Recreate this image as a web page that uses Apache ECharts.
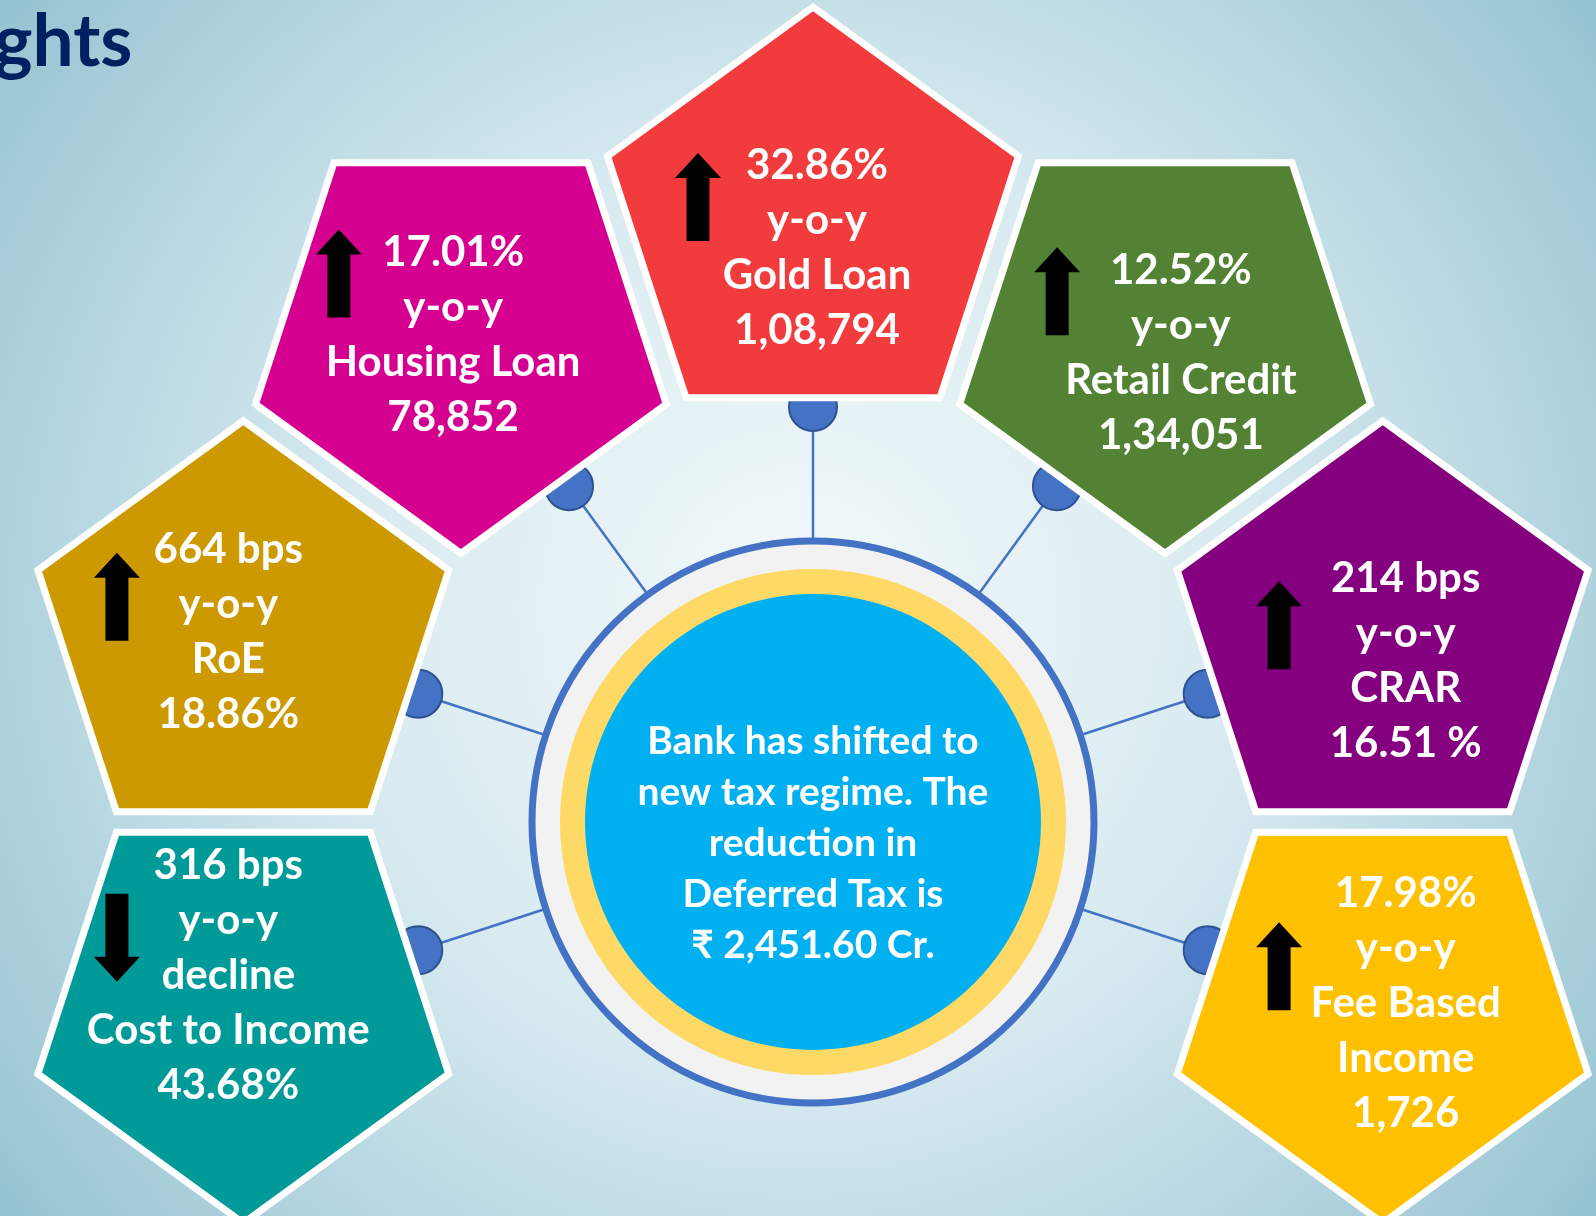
<!DOCTYPE html>
<html>
<head>
<meta charset="utf-8">
<title>Highlights</title>
<script src="https://cdn.jsdelivr.net/npm/echarts@6/dist/echarts.min.js"></script>
<style>
  html, body { margin: 0; padding: 0; }
  #main { width: 1596px; height: 1216px; }
</style>
</head>
<body>
<div id="main"></div>
<script>
// metrics, listed clockwise around the ring starting from the top
const metrics = ['Gold Loan', 'Retail Credit', 'CRAR', 'Fee Based\nIncome', 'Cost to Income', 'RoE', 'Housing Loan'];
const changes = ['32.86%', '12.52%', '214 bps', '17.98%', '316 bps', '664 bps', '17.01%'];
const trend = ['up', 'up', 'up', 'up', 'down', 'up', 'up'];
const values = ['1,08,794', '1,34,051', '16.51 %', '1,726', '43.68%', '18.86%', '78,852'];
const colors = ['#F23B3C', '#548235', '#84007E', '#FFC000', '#009A98', '#CC9900', '#D5008F'];
const centerNote = ['Bank has shifted to', 'new tax regime. The', 'reduction in', 'Deferred Tax is', '₹ 2,451.60 Cr.'];

// ring has 10 slots of 36 degrees; the bottom three stay empty
const RING_SLOTS = 10;
const slotOf = i => (i < 4 ? i : i + 3);

const CX = 813, CY = 822;
const FONT = 'Lato, "Open Sans", sans-serif';

const chart = echarts.init(document.getElementById('main'));

function pentagonItem(params, api) {
  const i = params.dataIndex;
  const p = api.coord([api.value(0), api.value(1)]);
  const cs = params.coordSys;
  const dx = p[0] - cs.cx, dy = p[1] - cs.cy;
  const d = Math.sqrt(dx * dx + dy * dy);
  const ux = dx / d, uy = dy / d;
  const a = Math.atan2(dy, dx);
  const R = 216;
  const pts = [];
  for (let j = 0; j < 5; j++) {
    const t = a + j * Math.PI * 2 / 5;
    pts.push([p[0] + R * Math.cos(t), p[1] + R * Math.sin(t)]);
  }
  const knob = [p[0] - ux * 184, p[1] - uy * 184];
  const lineStart = [cs.cx + ux * 284, cs.cy + uy * 284];

  const up = slotOf(i) % 2 === 0;
  const lines = [changes[i], 'y-o-y'];
  if (trend[i] === 'down') lines.push('decline');
  lines.push(metrics[i], values[i]);
  // content leans a little toward the outer side of the ring
  const tx = p[0] + 4 + 20 * ux;
  const ty = p[1] + (up ? 8 : -6) - 5 + 15 * ux - 22 * uy;
  const ax = p[0] - 115 + 12 * ux;
  const ay = p[1] + (up ? -26 : -55) + 15 * ux;
  const dir = trend[i] === 'down' ? -1 : 1;
  const arrow = [
    [0, -44], [23, -19], [11.5, -19], [11.5, 44], [-11.5, 44], [-11.5, -19], [-23, -19]
  ].map(q => [ax + q[0], ay + q[1] * dir]);

  return {
    type: 'group',
    children: [
      { type: 'line', shape: { x1: lineStart[0], y1: lineStart[1], x2: knob[0], y2: knob[1] },
        style: { stroke: '#4472C4', lineWidth: 2.5 } },
      { type: 'circle', shape: { cx: knob[0], cy: knob[1], r: 24 },
        style: { fill: '#4472C4', stroke: '#2F528F', lineWidth: 2 } },
      { type: 'polygon', shape: { points: pts },
        style: { fill: colors[i], stroke: '#ffffff', lineWidth: 7, lineJoin: 'miter' } },
      { type: 'polygon', shape: { points: arrow }, style: { fill: '#000000' } },
      { type: 'text',
        style: { text: lines.join('\n'), x: tx, y: ty, fill: '#ffffff',
          font: 'bold 42px ' + FONT, align: 'center', verticalAlign: 'middle', lineHeight: 55 } }
    ]
  };
}

const option = {
  animation: false,
  graphic: [
    { type: 'rect', z: -100, shape: { x: 0, y: 0, width: 1596, height: 1216 },
      style: { fill: new echarts.graphic.RadialGradient(0.5, 0.5, 0.85, [
        { offset: 0, color: '#f3f9fb' },
        { offset: 0.45, color: '#d7eaf0' },
        { offset: 1, color: '#92c1d0' }
      ]) } },
    { type: 'text', x: -6, y: 42, z: 10,
      style: { text: 'ghts', fill: '#002060', font: 'bold 73px ' + FONT, verticalAlign: 'middle' } },
    { type: 'circle', z: 5, shape: { cx: CX, cy: CY, r: 281 },
      style: { fill: '#F2F2F2', stroke: '#4472C4', lineWidth: 7 } },
    { type: 'circle', z: 5, shape: { cx: CX, cy: CY, r: 253 }, style: { fill: '#FFD966' } },
    { type: 'circle', z: 5, shape: { cx: CX, cy: CY, r: 228 }, style: { fill: '#00B0F0' } },
    { type: 'text', z: 6, x: CX, y: CY + 21,
      style: { text: centerNote.join('\n'), fill: '#ffffff', font: 'bold 39px ' + FONT,
        align: 'center', verticalAlign: 'middle', lineHeight: 51 } }
  ],
  polar: { center: [CX, CY], radius: 599 },
  radiusAxis: { type: 'value', min: 0, max: 1, show: false,
    axisLine: { show: false }, axisTick: { show: false }, axisLabel: { show: false }, splitLine: { show: false } },
  angleAxis: { type: 'value', min: 0, max: RING_SLOTS, startAngle: 90, clockwise: true, show: false,
    axisLine: { show: false }, axisTick: { show: false }, axisLabel: { show: false }, splitLine: { show: false } },
  series: [{
    type: 'custom',
    coordinateSystem: 'polar',
    encode: { radius: 0, angle: 1 },
    silent: true,
    data: metrics.map((m, i) => [1, slotOf(i)]),
    renderItem: pentagonItem
  }]
};

chart.setOption(option);
</script>
</body>
</html>
